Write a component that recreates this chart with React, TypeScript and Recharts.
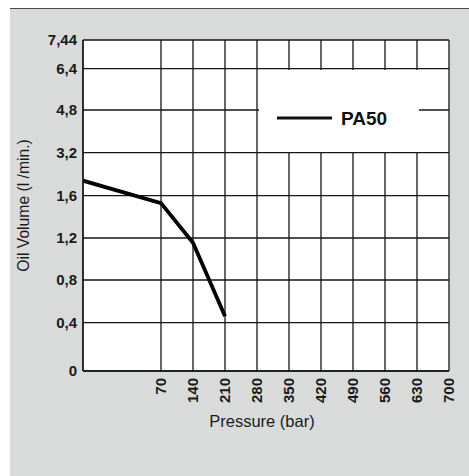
import React from 'react';
import { LineChart, Line, XAxis, YAxis, CartesianGrid, Legend, Label } from 'recharts';

// Data
const seriesName = 'PA50';
const pressure = [0, 70, 140, 210];
const oilVolume = [2.16, 1.53, 1.155, 0.46];
const xTickValues = [70, 140, 210, 280, 350, 420, 490, 560, 630, 700];
const yTickValues = [0, 0.4, 0.8, 1.2, 1.6, 3.2, 4.8, 6.4, 7.44];
const yTickLabels = ['0', '0,4', '0,8', '1,2', '1,6', '3,2', '4,8', '6,4', '7,44'];

// Layout of the non-uniform axes (in axis units)
const yTickOffsets = [0, 48.3, 91, 133, 175.3, 218.3, 261, 302.3, 331];
const xFirstSpan = 78 / 32; // width of the 0-70 segment relative to a 70-bar step

const xPos = (v: number) => (v <= 70 ? (v / 70) * xFirstSpan : xFirstSpan + (v - 70) / 70);
const yPos = (v: number) => {
  for (let i = 1; i < yTickValues.length; i++) {
    if (v <= yTickValues[i]) {
      const a = yTickValues[i - 1];
      const b = yTickValues[i];
      const t = (v - a) / (b - a);
      return yTickOffsets[i - 1] + t * (yTickOffsets[i] - yTickOffsets[i - 1]);
    }
  }
  return yTickOffsets[yTickOffsets.length - 1];
};

const data = pressure.map((p, i) => ({ xp: xPos(p), yp: yPos(oilVolume[i]) }));
const xTickPos = xTickValues.map(xPos);
const xMax = xPos(700);
const yMax = yTickOffsets[yTickOffsets.length - 1];

const tickFont = "'Liberation Sans Narrow', 'Arial Narrow', 'Liberation Sans', Arial, sans-serif";
const labelFont = "'Liberation Sans', Arial, sans-serif";
const GRID = '#161616';

const XTick = (props: any) => {
  const { x, y, payload } = props;
  const idx = xTickPos.findIndex((p) => Math.abs(p - payload.value) < 1e-6);
  const label = idx >= 0 ? String(xTickValues[idx]) : '';
  return (
    <text
      x={x}
      y={y}
      transform={`rotate(-90, ${x}, ${y})`}
      textAnchor="end"
      dy="0.36em"
      fontFamily={tickFont}
      fontWeight="bold"
      fontSize={15}
      fill="#1a1a1a"
    >
      {label}
    </text>
  );
};

const yFormatter = (v: number) => {
  const idx = yTickOffsets.findIndex((p) => Math.abs(p - v) < 1e-6);
  return idx >= 0 ? yTickLabels[idx] : '';
};

const LegendBox = () => (
  <div style={{ position: 'relative', width: 160, height: 82, background: '#fff' }}>
    <svg width={160} height={82} style={{ position: 'absolute', left: 0, top: 0 }}>
      <line x1={18} y1={48} x2={73} y2={48} stroke="#111" strokeWidth={3} />
      <text
        x={82}
        y={48}
        dy="0.36em"
        fontFamily={labelFont}
        fontWeight="bold"
        fontSize={19}
        fill="#111"
      >
        {seriesName}
      </text>
    </svg>
  </div>
);

export default function App() {
  return (
    <div style={{ position: 'absolute', left: 0, top: 0, width: 469, height: 476, background: '#fff' }}>
      <div
        style={{
          position: 'absolute',
          left: 10,
          top: 8,
          width: 459,
          height: 467,
          background: '#d9dbdb',
          borderTop: '1px solid #4a4a4a',
        }}
      />
      <div style={{ position: 'absolute', left: 0, top: 0 }}>
        <LineChart width={469} height={476} data={data} margin={{ top: 40, right: 20, bottom: 0, left: 0 }}>
          <CartesianGrid stroke={GRID} strokeWidth={1.3} fill="#fff" fillOpacity={1} />
          <XAxis
            dataKey="xp"
            type="number"
            domain={[0, xMax]}
            ticks={xTickPos}
            interval={0}
            tickLine={false}
            tickSize={0}
            tickMargin={7}
            height={105}
            axisLine={{ stroke: GRID, strokeWidth: 1.3 }}
            tick={<XTick />}
            allowDataOverflow
          >
            <Label
              value="Pressure (bar)"
              position="insideTop"
              offset={44}
              fontFamily={labelFont}
              fontSize={16.5}
              fill="#1a1a1a"
              dx={-4}
            />
          </XAxis>
          <YAxis
            type="number"
            domain={[0, yMax]}
            ticks={yTickOffsets}
            interval={0}
            tickLine={false}
            tickSize={0}
            tickMargin={6}
            width={83}
            axisLine={{ stroke: GRID, strokeWidth: 1.3 }}
            tickFormatter={yFormatter}
            tick={{ fontFamily: tickFont, fontWeight: 'bold', fontSize: 15, fill: '#1a1a1a' }}
            allowDataOverflow
          >
            <Label
              value="Oil Volume (l /min.)"
              angle={-90}
              position="insideLeft"
              offset={23}
              fontFamily={labelFont}
              fontSize={15.7}
              fill="#1a1a1a"
              style={{ textAnchor: 'middle' }}
            />
          </YAxis>
          <Legend
            layout="vertical"
            align="center"
            verticalAlign="middle"
            content={<LegendBox />}
            wrapperStyle={{ position: 'absolute', left: 259, top: 70, width: 160, height: 82 }}
          />
          <Line
            name={seriesName}
            dataKey="yp"
            stroke="#000"
            strokeWidth={3.8}
            dot={false}
            isAnimationActive={false}
          />
        </LineChart>
      </div>
    </div>
  );
}
